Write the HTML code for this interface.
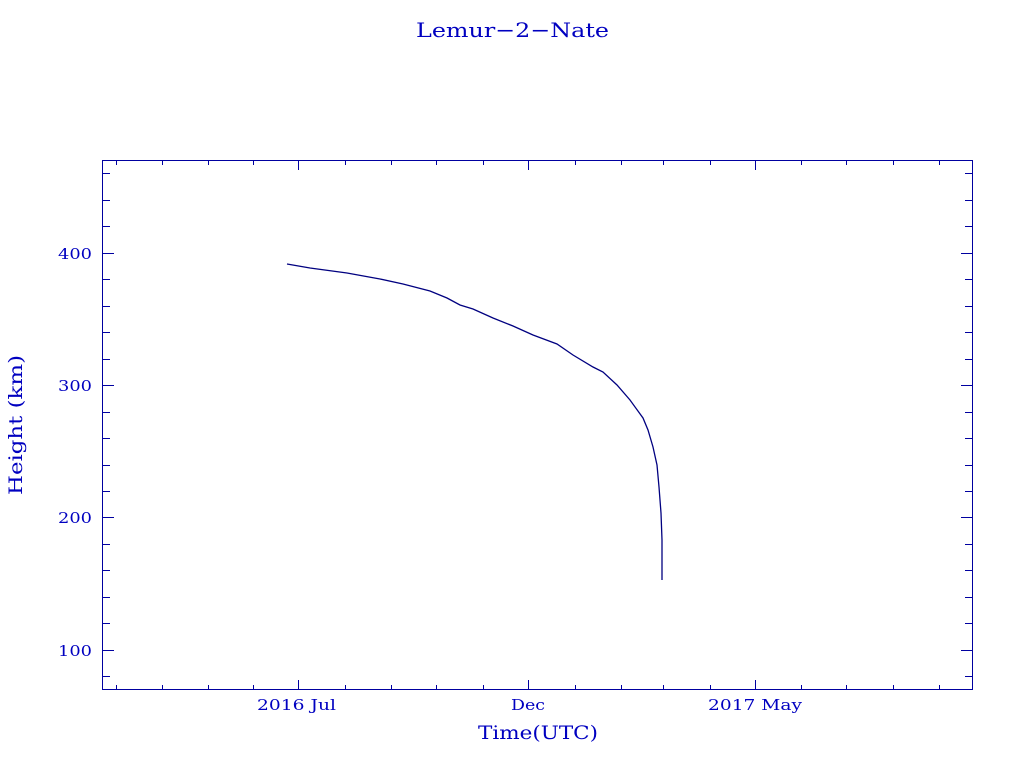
<!DOCTYPE html>
<html><head><meta charset="utf-8"><style>
body{margin:0;background:#fff;}
svg{display:block}
text{font-family:"DejaVu Serif","Liberation Serif",serif;fill:#0000c0;}
</style></head><body>
<svg width="1024" height="768" xmlns="http://www.w3.org/2000/svg">
<rect x="0" y="0" width="1024" height="768" fill="#fff"/>
<text x="416" y="37" font-size="20" textLength="193" lengthAdjust="spacingAndGlyphs">Lemur−2−Nate</text>
<rect x="102.5" y="160.5" width="870" height="529" fill="none" stroke="#0000a0" stroke-width="1"/>
<g stroke="#0000a0" stroke-width="1">
<path d="M298.5 690v-10M528.5 690v-10M755.5 690v-10M298.5 160v10M528.5 160v10M755.5 160v10"/>
<path d="M116.5 690v-5M162.5 690v-5M208.5 690v-5M253.5 690v-5M345.5 690v-5M391.5 690v-5M436.5 690v-5M483.5 690v-5M575.5 690v-5M621.5 690v-5M663.5 690v-5M710.5 690v-5M801.5 690v-5M846.5 690v-5M893.5 690v-5M939.5 690v-5
M116.5 160v5M162.5 160v5M208.5 160v5M253.5 160v5M345.5 160v5M391.5 160v5M436.5 160v5M483.5 160v5M575.5 160v5M621.5 160v5M663.5 160v5M710.5 160v5M801.5 160v5M846.5 160v5M893.5 160v5M939.5 160v5"/>
<path d="M102 253.5h12M102 385.5h12M102 517.5h12M102 650.5h12M973 253.5h-12M973 385.5h-12M973 517.5h-12M973 650.5h-12"/>
<path d="M102 173.5h8M102 200.5h8M102 226.5h8M102 279.5h8M102 306.5h8M102 332.5h8M102 359.5h8M102 412.5h8M102 438.5h8M102 465.5h8M102 491.5h8M102 544.5h8M102 570.5h8M102 597.5h8M102 623.5h8M102 676.5h8
M973 173.5h-8M973 200.5h-8M973 226.5h-8M973 279.5h-8M973 306.5h-8M973 332.5h-8M973 359.5h-8M973 412.5h-8M973 438.5h-8M973 465.5h-8M973 491.5h-8M973 544.5h-8M973 570.5h-8M973 597.5h-8M973 623.5h-8M973 676.5h-8"/>
</g>
<g font-size="15">
<text x="58" y="259" textLength="34" lengthAdjust="spacingAndGlyphs">400</text>
<text x="58" y="391" textLength="34" lengthAdjust="spacingAndGlyphs">300</text>
<text x="58" y="523" textLength="34" lengthAdjust="spacingAndGlyphs">200</text>
<text x="58" y="656" textLength="34" lengthAdjust="spacingAndGlyphs">100</text>
<text x="257" y="710" textLength="79" lengthAdjust="spacingAndGlyphs">2016 Jul</text>
<text x="511" y="710" textLength="34" lengthAdjust="spacingAndGlyphs">Dec</text>
<text x="708" y="710" textLength="94" lengthAdjust="spacingAndGlyphs">2017 May</text>
</g>
<text x="478" y="739" font-size="19" textLength="120" lengthAdjust="spacingAndGlyphs">Time(UTC)</text>
<text transform="translate(22,495) rotate(-90)" font-size="19" textLength="140" lengthAdjust="spacingAndGlyphs">Height (km)</text>
<polyline fill="none" stroke="#000080" stroke-width="1.3" points="287,264 310,268 347,273 380,279 403,284 430,291 447,298 460,305 473,309 493,318 513,326 533,335 557,344 573,355 593,367 603,372 617,385 630,400 643,418 648,430 653,447 657,465 659,487 661,513 662,540 662,580"/>
</svg>
</body></html>
